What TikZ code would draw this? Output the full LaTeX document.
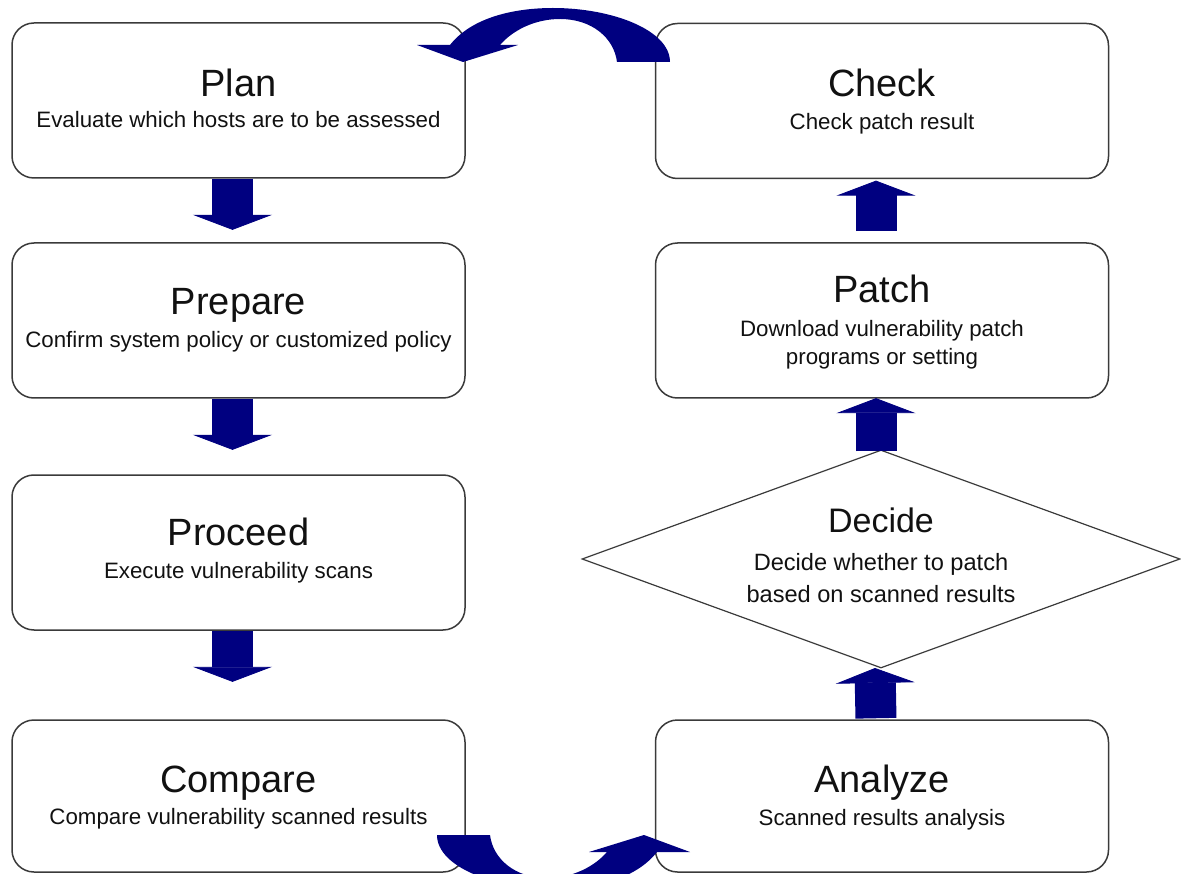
\documentclass[tikz,border=0pt]{standalone}
\usepackage{fontspec}
\setmainfont{Liberation Sans}
\usetikzlibrary{arrows.meta,shapes.geometric}
\definecolor{ink}{HTML}{111111}
\definecolor{frame}{HTML}{3A3A3A}
\definecolor{deepblue}{HTML}{000080}

\begin{document}
\begin{tikzpicture}[x=1pt, y=-1pt,
    stage/.style={draw=frame, line width=1.5pt, rounded corners=22pt,
                  minimum width=453pt, minimum height=155pt, inner sep=0pt},
    choice/.style={diamond, draw=frame, line width=1.2pt,
                   minimum width=598pt, minimum height=218pt, inner sep=0pt},
    title/.style={anchor=base, text=ink, font=\fontsize{38}{40}\selectfont},
    lab/.style={anchor=base, text=ink, align=center, font=\fontsize{22.3}{28}\selectfont},
    flow/.style={draw=deepblue, line width=41pt,
                 -{Triangle[length=15pt, width=79pt, line width=0.8pt, sep=-0.6pt]}}]
  % fixed 1181 x 874 canvas, y grows downwards
  \path[use as bounding box] (0,0) rectangle (1181,874);

  % ================= left column =================
  \node[stage] (plan)    at (238.5,100.5) {};
  \node[stage] (prepare) at (238.5,320.5) {};
  \node[stage] (proceed) at (238.5,552.5) {};
  \node[stage, minimum height=152pt] (compare) at (238.5,796) {};

  \node[title] (planT) at (238.5,97)  {Plan};
  \node[lab]   (planS) at (238.5,128) {Evaluate which hosts are to be assessed};
  \node[title] (prepareT) at (238.5,315) {Prepare};
  \node[lab]   (prepareS) at (238.5,348) {Confirm system policy or customized policy};
  \node[title] (proceedT) at (238.5,545) {Proceed};
  \node[lab]   (proceedS) at (238.5,578) {Execute vulnerability scans};
  \node[title] (compareT) at (238.5,792) {Compare};
  \node[lab]   (compareS) at (238.5,824) {Compare vulnerability scanned results};

  % ================= right column =================
  \node[stage] (check) at (882,101) {};
  \node[stage] (patch) at (882,320.5) {};
  \node[choice] (decide) at (881,559) {};
  \node[stage, minimum height=152pt] (analyze) at (882,796) {};

  % (base of a two-line label = its last line)
  \node[title] (checkT) at (882,97)  {Check};
  \node[lab]   (checkS) at (882,130) {Check patch result};
  \node[title] (patchT) at (882,303) {Patch};
  \node[lab]   (patchS) at (882,365) {Download vulnerability patch\\programs or setting};
  \node[title, font=\fontsize{34}{36}\selectfont] (decideT) at (881,532) {Decide};
  \node[lab, font=\fontsize{23.6}{32}\selectfont] (decideS) at (881,602)
    {Decide whether to patch\\based on scanned results};
  \node[title] (analyzeT) at (882,792) {Analyze};
  \node[lab]   (analyzeS) at (882,825) {Scanned results analysis};

  % ================= block arrows =================
  \draw[flow, shorten >=13pt] ([xshift=-6pt]plan.south)    -- ([xshift=-6pt]prepare.north);
  \draw[flow, shorten >=25pt] ([xshift=-6pt]prepare.south) -- ([xshift=-6pt]proceed.north);
  \draw[flow, shorten >=38pt] ([xshift=-6pt]proceed.south) -- ([xshift=-6pt]compare.north);
  \draw[flow, shorten <=1pt]  ([xshift=-6pt]analyze.north) -- ([xshift=-6pt]decide.south);
  \draw[flow, shorten <=-2pt] ([xshift=-5pt]decide.north)  -- ([xshift=-6pt]patch.south);
  \draw[flow, shorten <=11pt, shorten >=2pt] ([xshift=-6pt]patch.north) -- ([xshift=-6pt]check.south);

  % ================= curved arrows (Check -> Plan, Compare -> Analyze) =================
  \begin{scope}
    \clip (0,0) rectangle (1181,874);
    \foreach \r in {0,180}
      \fill[deepblue, rotate around={\r:(553.5,448.5)}]
        (450,45) .. controls (472,17) and (515,8) .. (553,8)
        .. controls (612,8) and (670,30) .. (670,62) -- (617,62)
        .. controls (614,38) and (592,19) .. (560,19)
        .. controls (534,19) and (512,31) .. (500,45)
        -- (518,45) -- (463,62) -- (417,45) -- cycle;
  \end{scope}
\end{tikzpicture}
\end{document}
